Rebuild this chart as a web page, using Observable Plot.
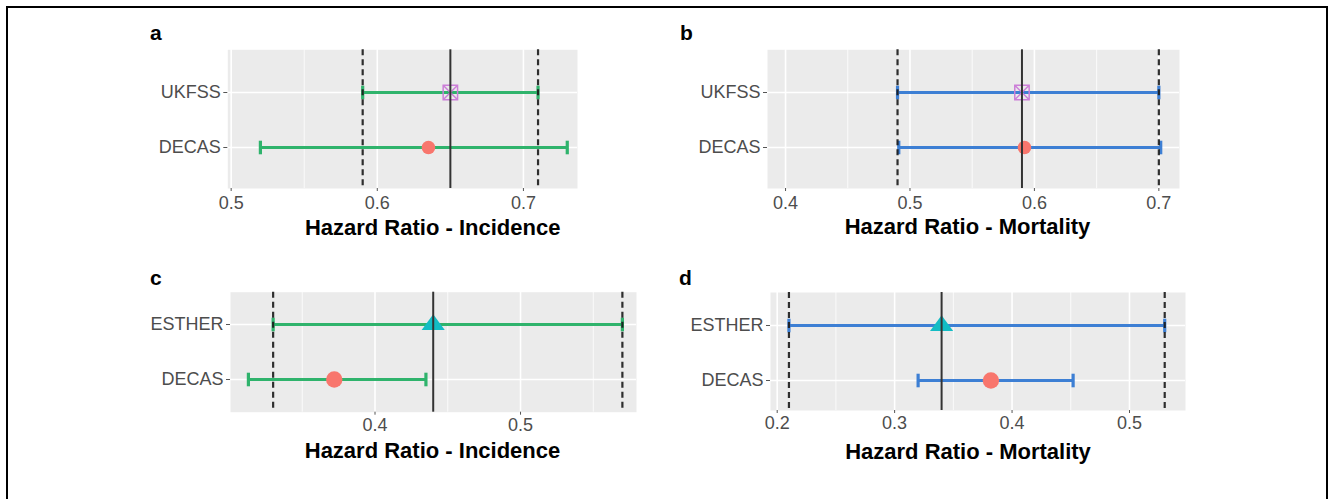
<!DOCTYPE html>
<html><head><meta charset="utf-8">
<script src="https://cdn.jsdelivr.net/npm/d3@7"></script>
<script src="https://cdn.jsdelivr.net/npm/@observablehq/plot@0.6"></script>
<style>
body{margin:0;background:#fff;}
#root{position:relative;width:1329px;height:499px;overflow:hidden;font-family:"Liberation Sans",Arial,sans-serif;}
.border{position:absolute;left:6px;top:6px;width:1318px;height:600px;border:2px solid #000;}
.letter{position:absolute;font-weight:bold;font-size:21px;line-height:1;color:#000;}
.panel{position:absolute;}
</style></head><body><div id="root"><div class="border"></div></div>
<script>
// ---- data ----
const studiesAB = ["UKFSS", "DECAS"];
const studiesCD = ["ESTHER", "DECAS"];

const hrA = [0.65, 0.635], loA = [0.59, 0.52], hiA = [0.71, 0.73];
const refA = [0.65], bandA = [0.59, 0.71];

const hrB = [0.59, 0.592], loB = [0.49, 0.491], hiB = [0.70, 0.7015];
const refB = [0.59], bandB = [0.49, 0.70];

const hrC = [0.44, 0.372], loC = [0.33, 0.313], hiC = [0.57, 0.435];
const refC = [0.44], bandC = [0.33, 0.57];

const hrD = [0.34, 0.382], loD = [0.21, 0.32], hiD = [0.53, 0.452];
const refD = [0.34], bandD = [0.21, 0.53];

const ticksA = [0.5, 0.6, 0.7], minorA = [0.55, 0.65];
const ticksB = [0.4, 0.5, 0.6, 0.7], minorB = [0.45, 0.55, 0.65];
const ticksC = [0.4, 0.5], minorC = [0.35, 0.45, 0.55];
const ticksD = [0.2, 0.3, 0.4, 0.5], minorD = [0.25, 0.35, 0.45];

const titleInc = "Hazard Ratio - Incidence";
const titleMort = "Hazard Ratio - Mortality";
const letters = ["a", "b", "c", "d"];

// ---- symbols ----
const squareCross = {draw(ctx, size){ const s = Math.sqrt(size/Math.PI);
  ctx.moveTo(-s,-s); ctx.lineTo(s,-s); ctx.lineTo(s,s); ctx.lineTo(-s,s); ctx.closePath();
  ctx.moveTo(-s,-s); ctx.lineTo(s,s); ctx.moveTo(s,-s); ctx.lineTo(-s,s);}};
const triUp = {draw(ctx, size){ const s = Math.sqrt(size/Math.PI);
  ctx.moveTo(0,-1.45*s); ctx.lineTo(1.65*s,0.8*s); ctx.lineTo(-1.65*s,0.8*s); ctx.closePath();}};
const capSym = {draw(ctx, size){ const s = Math.sqrt(size/Math.PI);
  ctx.moveTo(0,-s); ctx.lineTo(0,s);}};

const root = document.getElementById("root");

function panel(cfg){
  const rows = cfg.studies.map((s,i)=>({study:s, hr:cfg.hr[i], lo:cfg.lo[i], hi:cfg.hi[i]}));
  const inDom = v => v >= cfg.domain[0] && v <= cfg.domain[1];
  const pointMarks = [];
  rows.forEach(r => {
    if (r.study === "DECAS") pointMarks.push(Plot.dot([r], {x:"hr", y:"study", r:cfg.dotR, fill:"#F8766D", stroke:"none"}));
    else if (r.study === "UKFSS") pointMarks.push(Plot.dot([r], {x:"hr", y:"study", r:7.2, symbol:squareCross, fill:"none", stroke:"#CC7FD8", strokeWidth:1.5}));
    else pointMarks.push(Plot.dot([r], {x:"hr", y:"study", r:7, symbol:triUp, fill:"#13BCC4", stroke:"none"}));
  });
  const chart = Plot.plot({
    width: cfg.width, height: cfg.height,
    marginLeft: cfg.ml, marginRight: cfg.mr, marginTop: cfg.mt, marginBottom: cfg.mb,
    x: {domain: cfg.domain, label: null},
    y: {type: "point", domain: cfg.studies, range: cfg.yrange, padding: 0, label: null},
    style: {fontFamily: '"Liberation Sans", Arial, sans-serif', color: "#4d4d4d", background: "transparent", overflow: "visible"},
    marks: [
      Plot.frame({fill: "#EBEBEB", stroke: null}),
      Plot.ruleX(cfg.minor.filter(inDom), {stroke: "#fff", strokeWidth: 0.8}),
      Plot.ruleX(cfg.ticks.filter(inDom), {stroke: "#fff", strokeWidth: 1.6}),
      Plot.ruleY(cfg.studies, {stroke: "#fff", strokeWidth: 1.6}),
      Plot.axisX({ticks: cfg.ticks, tickFormat: d => String(d), tickSize: 3, tickPadding: cfg.tp, fontSize: 18, label: null, stroke: "#555"}),
      Plot.axisY({tickSize: 4, tickPadding: 3, fontSize: 18, label: null, stroke: "#555"}),
      Plot.ruleY(rows, {y: "study", x1: "lo", x2: "hi", stroke: cfg.color, strokeWidth: 3}),
      Plot.dot(rows, {x: "lo", y: "study", r: 6.8, symbol: capSym, stroke: cfg.color, strokeWidth: 3.2, fill: "none"}),
      Plot.dot(rows, {x: "hi", y: "study", r: 6.8, symbol: capSym, stroke: cfg.color, strokeWidth: 3.2, fill: "none"}),
      ...pointMarks,
      Plot.ruleX(cfg.band, {stroke: "#1a1a1a", strokeWidth: 2.2, strokeDasharray: "6,4", strokeOpacity: 0.9}),
      Plot.ruleX(cfg.ref, {stroke: "#333", strokeWidth: 2}),
      Plot.text([cfg.title], {text: d => d, frameAnchor: "bottom", dx: cfg.tdx, dy: cfg.tdy, fontSize: 22, fontWeight: "bold", fill: "#000"})
    ]
  });
  const wrap = document.createElement("div");
  wrap.className = "panel";
  wrap.style.left = cfg.left + "px";
  wrap.style.top = cfg.top + "px";
  wrap.appendChild(chart);
  root.appendChild(wrap);
  const L = document.createElement("div");
  L.className = "letter";
  L.textContent = cfg.letter;
  L.style.left = cfg.lx + "px";
  L.style.top = cfg.ly + "px";
  root.appendChild(L);
}

panel({letter: letters[0], lx: 150, ly: 22, left: 140, top: 20, width: 460, height: 235,
  ml: 87.3, mr: 23, mt: 29.3, mb: 67, yrange: [71.7, 127.3], tp: 5,
  domain: [0.4977, 0.737], studies: studiesAB, hr: hrA, lo: loA, hi: hiA, ref: refA, band: bandA,
  ticks: ticksA, minor: minorA, color: "#2FB36C", title: titleInc, tdx: 30, tdy: 46, dotR: 6.8});

panel({letter: letters[1], lx: 680, ly: 22, left: 670, top: 20, width: 530, height: 235,
  ml: 97, mr: 21, mt: 29.3, mb: 67, yrange: [71.7, 127.3], tp: 5,
  domain: [0.3855, 0.7166], studies: studiesAB, hr: hrB, lo: loB, hi: hiB, ref: refB, band: bandB,
  ticks: ticksB, minor: minorB, color: "#3D7FD4", title: titleMort, tdx: -6, tdy: 45, dotR: 6.8});

panel({letter: letters[2], lx: 150, ly: 267, left: 140, top: 260, width: 520, height: 230,
  ml: 90, mr: 24, mt: 31.7, mb: 78.3, yrange: [64.3, 119.3], tp: 3.5,
  domain: [0.3007, 0.5797], studies: studiesCD, hr: hrC, lo: loC, hi: hiC, ref: refC, band: bandC,
  ticks: ticksC, minor: minorC, color: "#2FB36C", title: titleInc, tdx: -1, tdy: 46, dotR: 8.2});

panel({letter: letters[3], lx: 679, ly: 267, left: 670, top: 260, width: 530, height: 230,
  ml: 100, mr: 15, mt: 32, mb: 80, yrange: [65, 120], tp: 3,
  domain: [0.1943, 0.5477], studies: studiesCD, hr: hrD, lo: loD, hi: hiD, ref: refD, band: bandD,
  ticks: ticksD, minor: minorD, color: "#3D7FD4", title: titleMort, tdx: -10, tdy: 48, dotR: 8.2});
</script></body></html>
